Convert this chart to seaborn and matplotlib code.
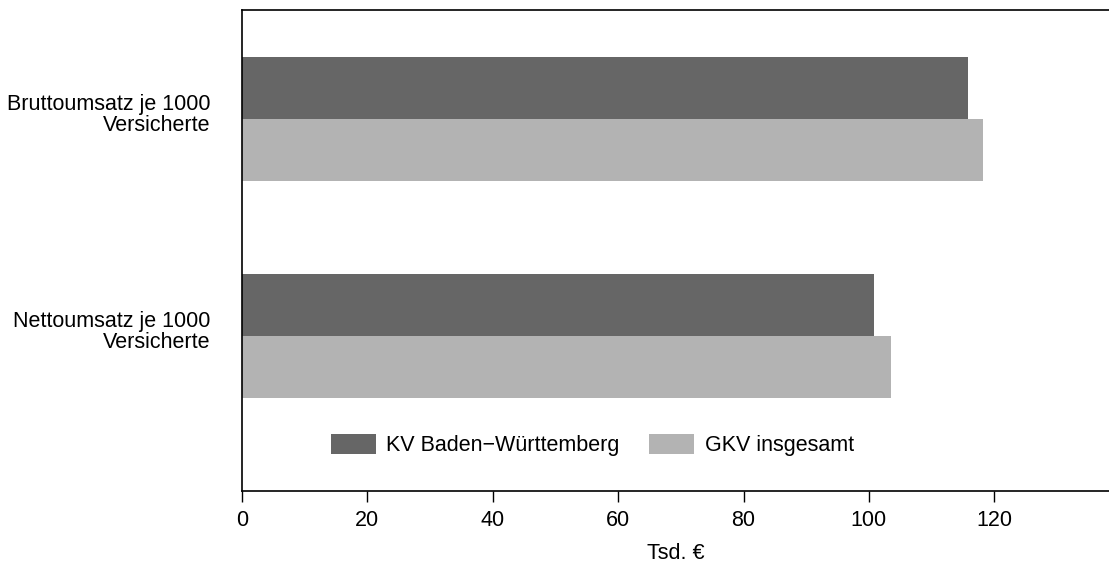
import pandas as pd
import matplotlib
matplotlib.use("Agg")
import matplotlib.pyplot as plt
import matplotlib.transforms as mtransforms
import seaborn as sns

# Werte (Tsd. €)
kategorien = ["Bruttoumsatz je 1000\nVersicherte", "Nettoumsatz je 1000\nVersicherte"]
kv_bw = [115.8, 100.8]
gkv = [118.2, 103.5]
serien = ["KV Baden\u2212Württemberg", "GKV insgesamt"]
farben = ["#666666", "#b3b3b3"]
xticks = [0, 20, 40, 60, 80, 100, 120]

df = pd.DataFrame({
    "kategorie": kategorien * 2,
    "wert": kv_bw + gkv,
    "serie": [serien[0]] * 2 + [serien[1]] * 2,
})

sns.set_style("white")
plt.rcParams["font.family"] = ["Liberation Sans", "DejaVu Sans"]
plt.rcParams["text.color"] = "black"
plt.rcParams["axes.labelcolor"] = "black"
plt.rcParams["xtick.color"] = "black"
plt.rcParams["ytick.color"] = "black"
fs = 15.5

fig = plt.figure(figsize=(11.09, 5.62), dpi=100)
ax = fig.add_axes([242 / 1109, 1 - 491 / 562, 1 - 242 / 1109, (491 - 10) / 562])

sns.barplot(data=df, y="kategorie", x="wert", hue="serie", order=kategorien,
            hue_order=serien, palette=farben, width=0.57, saturation=1,
            orient="h", ax=ax, linewidth=0)

ax.set_xlim(0, 138.3)
ax.set_ylim(1.714, -0.502)
ax.set_xticks(xticks)
ax.set_xlabel("Tsd. €", fontsize=fs, labelpad=8)
ax.set_ylabel("")
ax.tick_params(axis="x", bottom=True, direction="out", length=8, width=1,
               color="black", pad=6, labelsize=fs)
ax.tick_params(axis="y", left=False, length=0, pad=23, labelsize=fs)
shift = mtransforms.ScaledTranslation(0, 5 / 72, fig.dpi_scale_trans)
for lab in ax.get_yticklabels():
    lab.set_horizontalalignment("right")
    lab.set_multialignment("right")
    lab.set_linespacing(1.0)
    lab.set_transform(lab.get_transform() + shift)

for s in ["left", "bottom", "top"]:
    ax.spines[s].set_color("black")
    ax.spines[s].set_linewidth(1.2)
ax.spines["right"].set_visible(False)

ax.legend(loc="center", bbox_to_anchor=(0.404, 0.095), ncol=2, frameon=False,
          handlelength=2.09, handleheight=1.02, handletextpad=0.47,
          columnspacing=1.4, fontsize=fs)

fig.savefig("out.png", dpi=100)
